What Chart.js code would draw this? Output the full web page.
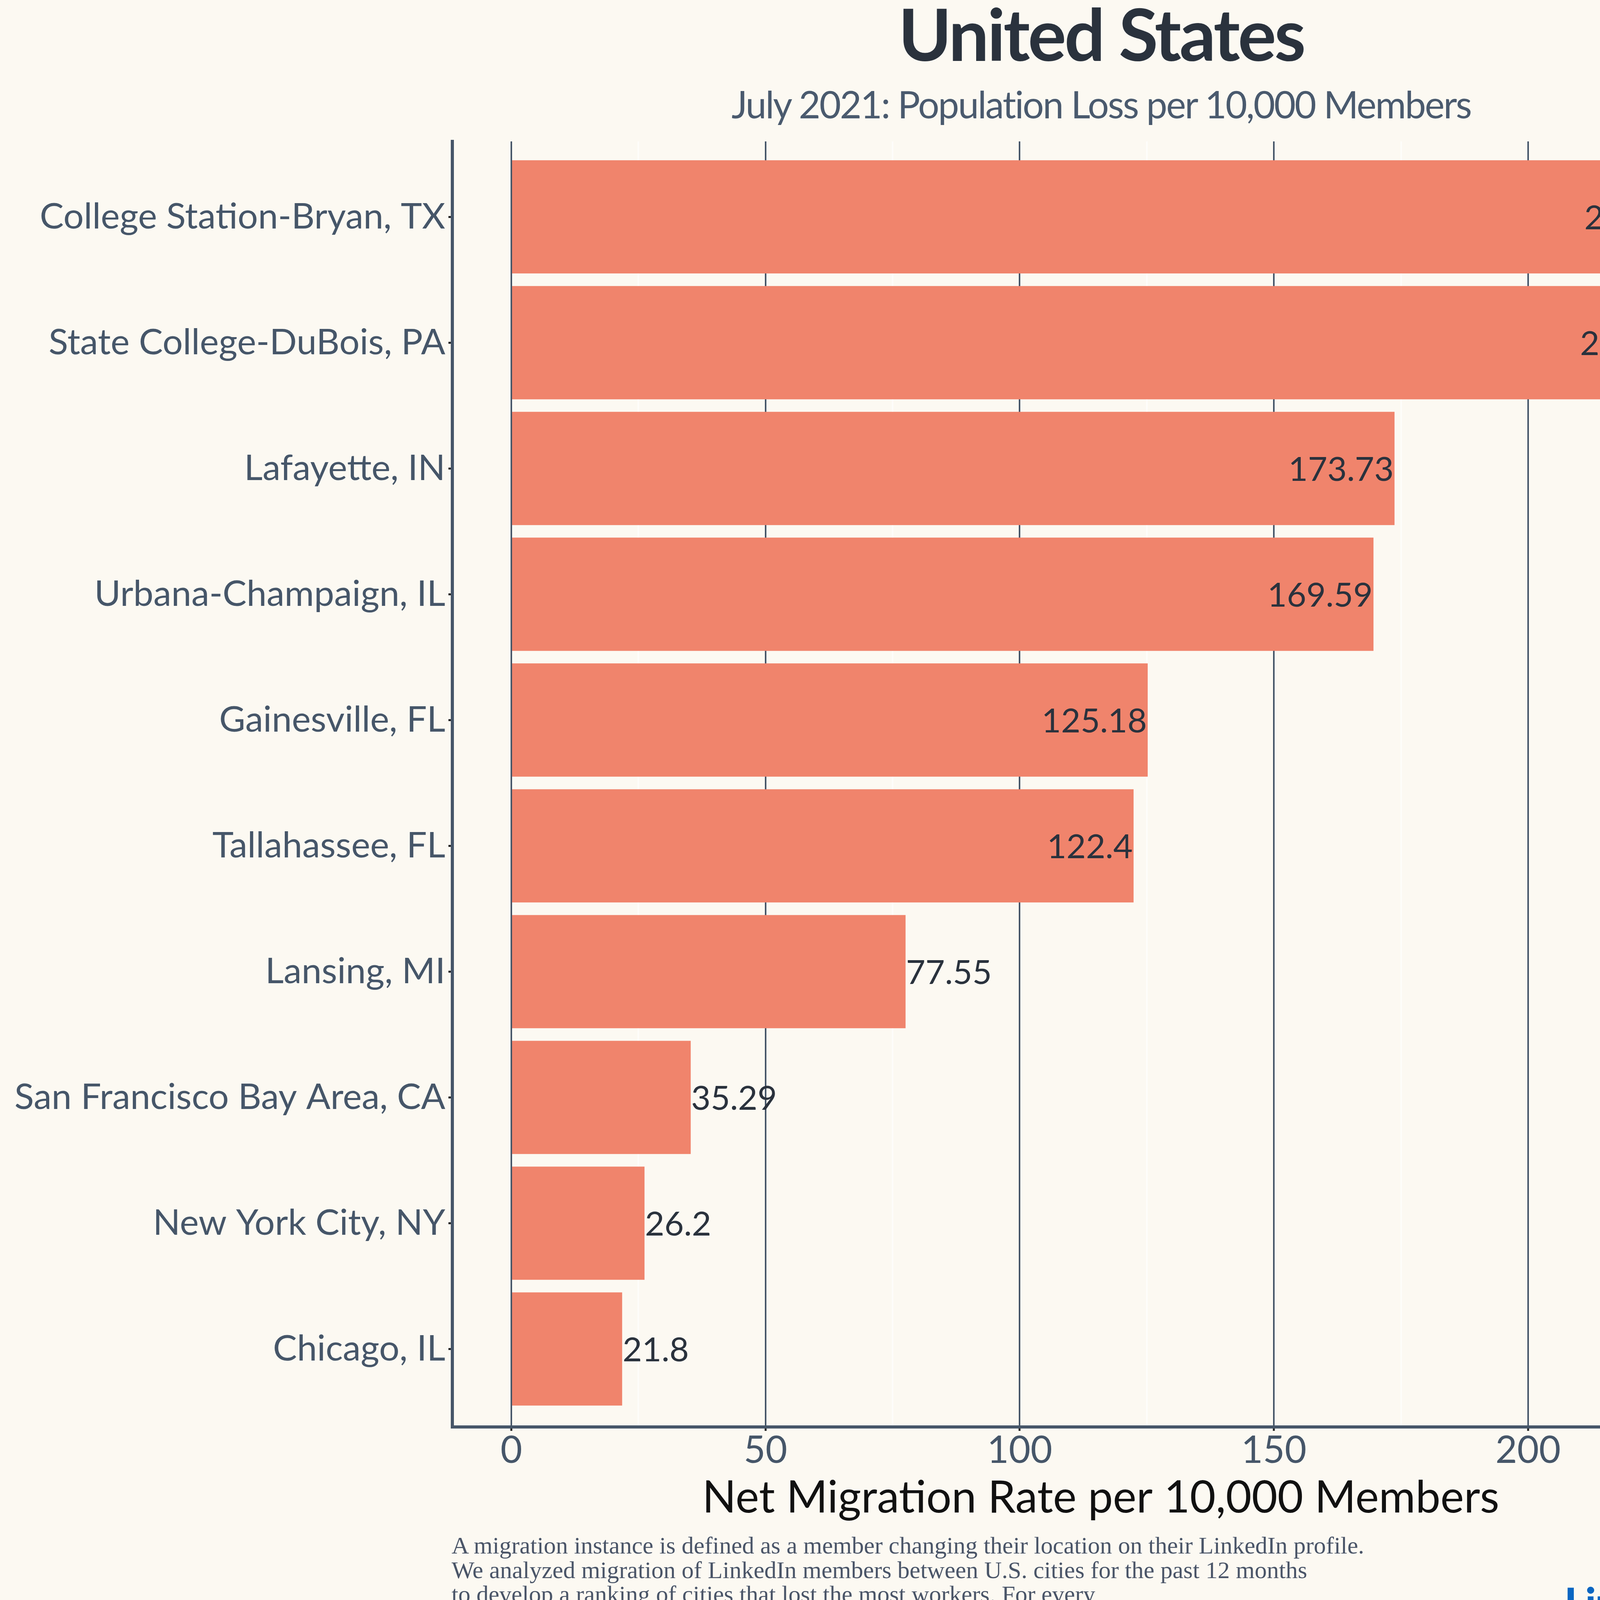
<!DOCTYPE html>
<html>
<head>
<meta charset="utf-8">
<script src="https://cdn.jsdelivr.net/npm/chart.js@4.4.1/dist/chart.umd.min.js"></script>
<style>
  html, body { margin:0; padding:0; background:#fcf9f2; }
  #wrap { position:relative; width:4500px; height:4200px; background:#fcf9f2; overflow:hidden; }
  #c { position:absolute; left:0; top:0; }
  .t { position:absolute; white-space:nowrap; line-height:1; }
  #title { left:0; width:5638px; text-align:center; top:-7px; font-family:Lato, sans-serif; font-weight:700; font-size:184px; letter-spacing:-5px; color:#2a323d; }
  #subtitle { left:0; width:5638px; text-align:center; top:218px; font-family:Lato, sans-serif; font-weight:400; font-size:96px; letter-spacing:-3px; color:#4a5a6e; }
  #note { position:absolute; left:1156px; top:3925px; font-family:"Liberation Serif", serif; font-size:62px; line-height:62.5px; color:#4a5568; white-space:nowrap; }
  #logo-text { left:4005px; top:4048px; font-family:Lato, sans-serif; font-weight:900; font-size:106px; letter-spacing:-2px; color:#0a66c2; }
  #logo-box { position:absolute; left:4342px; top:4045px; width:114px; height:114px; border-radius:9px; background:#0a66c2; }
  #logo-in { left:13px; top:3px; font-family:Lato, sans-serif; font-weight:900; font-size:106px; color:#ffffff; }
</style>
</head>
<body>
<div id="wrap">
  <canvas id="c" width="4500" height="4200"></canvas>
  <div class="t" id="title">United States</div>
  <div class="t" id="subtitle">July 2021: Population Loss per 10,000 Members</div>
  <div id="note">A migration instance is defined as a member changing their location on their LinkedIn profile.<br>We analyzed migration of LinkedIn members between U.S. cities for the past 12 months<br>to develop a ranking of cities that lost the most workers. For every<br>10,000 LinkedIn members in College Station-Bryan, 231.9 left in the past year.</div>
  <div class="t" id="logo-text">Linked</div>
  <div id="logo-box"><div class="t" id="logo-in">in</div></div>
</div>
<script>
const categories = [
  "College Station-Bryan, TX",
  "State College-DuBois, PA",
  "Lafayette, IN",
  "Urbana-Champaign, IL",
  "Gainesville, FL",
  "Tallahassee, FL",
  "Lansing, MI",
  "San Francisco Bay Area, CA",
  "New York City, NY",
  "Chicago, IL"
];
const values = [231.93, 231.09, 173.73, 169.59, 125.18, 122.4, 77.55, 35.29, 26.2, 21.8];
const valueLabels = ["231.93", "231.09", "173.73", "169.59", "125.18", "122.4", "77.55", "35.29", "26.2", "21.8"];
const xTickValues = [0, 25, 50, 75, 100, 125, 150, 175, 200, 225];
const xTickLabels = ["0", "", "50", "", "100", "", "150", "", "200", ""];
const xAxisTitle = "Net Migration Rate per 10,000 Members";

const AXIS = '#465669';
const isMajor = v => { const k = xTickValues.indexOf(v); return k >= 0 && xTickLabels[k] !== ''; };

const valueLabelPlugin = {
  id: 'valueLabels',
  afterDatasetsDraw(chart) {
    const ctx = chart.ctx;
    const meta = chart.getDatasetMeta(0);
    ctx.save();
    ctx.font = '400 86px Lato, sans-serif';
    ctx.fillStyle = '#2a323d';
    ctx.textBaseline = 'middle';
    meta.data.forEach((bar, i) => {
      const inside = values[i] >= 100;
      ctx.textAlign = inside ? 'right' : 'left';
      const x = inside ? bar.x - 2 : bar.x + 1;
      ctx.fillText(valueLabels[i], x, bar.y + 4);
    });
    ctx.restore();
  }
};

new Chart(document.getElementById('c'), {
  type: 'bar',
  data: {
    datasets: [{
      data: values.map((v, i) => ({ x: v, y: i })),
      backgroundColor: '#f0846c',
      borderWidth: 0,
      barPercentage: 0.9,
      categoryPercentage: 1.0
    }]
  },
  options: {
    indexAxis: 'y',
    responsive: false,
    animation: false,
    devicePixelRatio: 1,
    layout: { padding: { top: 362, right: 22, bottom: 0, left: 0 } },
    plugins: { legend: { display: false }, tooltip: { enabled: false }, title: { display: false } },
    scales: {
      y: {
        type: 'linear',
        reverse: true,
        offset: false,
        min: -0.6,
        max: 9.62,
        afterBuildTicks: s => { s.ticks = categories.map((c, i) => ({ value: i })); },
        afterFit: s => { s.width = 1158; },
        ticks: {
          autoSkip: false,
          callback: v => categories[v],
          font: { family: 'Lato, sans-serif', size: 92 },
          color: AXIS,
          padding: 8
        },
        grid: { offset: false, drawOnChartArea: false, drawTicks: true, tickLength: 10, tickColor: '#222222', tickWidth: 5 },
        border: { display: true, color: AXIS, width: 8 }
      },
      x: {
        type: 'linear',
        min: -11.6,
        max: 243.5,
        afterBuildTicks: s => { s.ticks = xTickValues.map(v => ({ value: v })); },
        afterFit: s => { s.height = 547; },
        ticks: {
          autoSkip: false,
          maxRotation: 0,
          callback: v => xTickLabels[xTickValues.indexOf(v)],
          font: { family: 'Lato, sans-serif', size: 96, lineHeight: 1 },
          color: AXIS,
          padding: 3
        },
        grid: {
          color: c => isMajor(c.tick.value) ? AXIS : 'rgba(255,255,255,0.6)',
          lineWidth: 4,
          tickLength: 10,
          tickColor: c => isMajor(c.tick.value) ? '#222222' : 'rgba(0,0,0,0)',
          tickWidth: 5
        },
        border: { display: true, color: AXIS, width: 8 },
        title: {
          display: true,
          text: xAxisTitle,
          font: { family: 'Lato, sans-serif', size: 114 },
          color: '#111111',
          padding: { top: 0, bottom: 296 }
        }
      }
    }
  },
  plugins: [valueLabelPlugin]
});
</script>
</body>
</html>
